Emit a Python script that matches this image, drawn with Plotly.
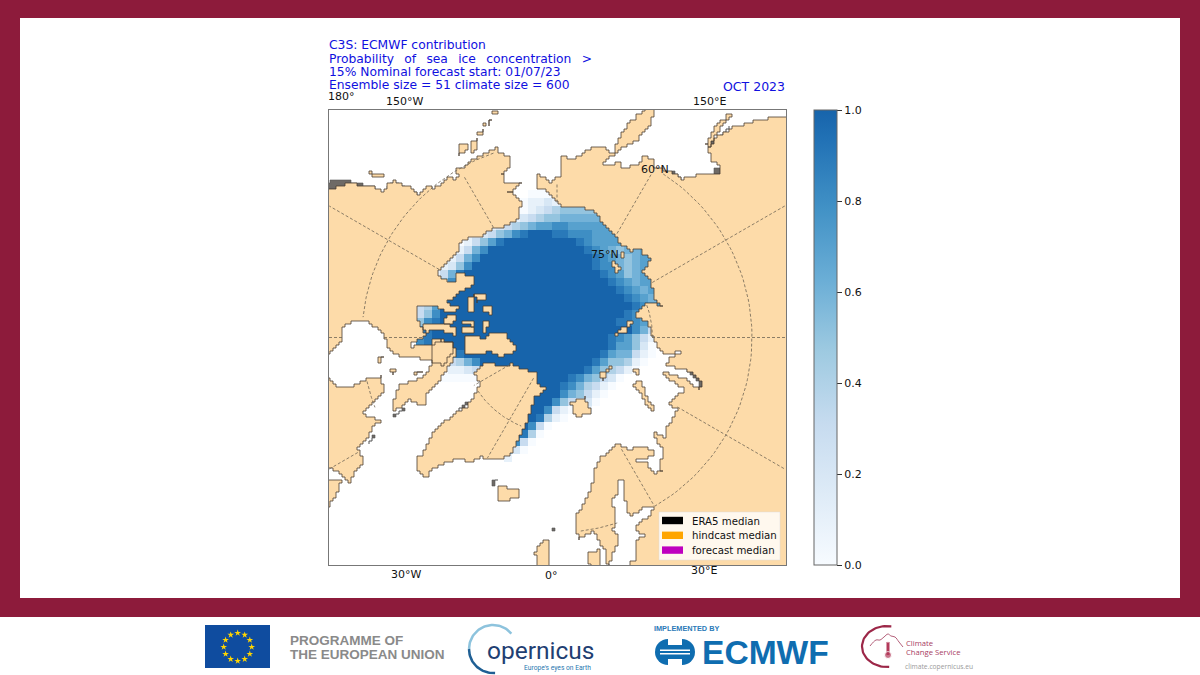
import numpy as np
import plotly.graph_objects as go

CROPS = {1: (325, 105), 2: (555, 105), 3: (325, 335), 4: (555, 335), 5: (410, 285)}

# ---- sea-ice probability, read from the map: '.'=no data, digit=tenths, X=1.0
ICE_X0, ICE_Y0, ICE_CELL = 400, 190, 8
ICE_ROWS = [
    "................000..............",
    "...............01121.............",
    "...............0123455555........",
    ".............0123455666666.......",
    "..........01234567788777777......",
    "........01235689XXX998887777.....",
    ".......013579XXXXXXXXX9877777....",
    "......01368XXXXXXXXXXXX9876566777",
    ".....01368XXXXXXXXXXXXXX987656777",
    "....01258XXXXXXXXXXXXXXX988656777",
    "...01369XXXXXXXXXXXXXXXXX98756777",
    "...0258XXXXXXXXXXXXXXXXXXX9876777",
    "....369XXXXXXXXXXXXXXXXXXXX987677",
    "...258XXXXXXXXXXXXXXXXXXXXXX98767",
    "..347XXXXXXXXXXXXXXXXXXXXXXXX9877",
    "..358XXXXXXXXXXXXXXXXXXXXXXX98877",
    ".3589XXXXXXXXXXXXXXXXXXXXXX99875.",
    ".789XXXXXXXXXXXXXXXXXXXXXXXXX863.",
    "..89XXXXXXXXXXXXXXXXXXXXXX987531.",
    "..89XXXXXXXXXXXXXXXXXXXXXX977520.",
    "......79XXXXXXXXXXXXXXXXX9766310.",
    "......3468XXXXXXXXXXXXXX9755410..",
    ".....011236XXXXXXXXXXXX9754310...",
    ".....00000XXXXXXXXXXX9865320.....",
    "...........XXXXXXXXX9864310......",
    "............XXXXXXXX865310.......",
    ".............XXXXXX853320........",
    ".............XXXXX831011.........",
    ".............XXXX9410............",
    ".............XXX830..............",
    ".............XX940...............",
    "..............830................",
    ".............520.................",
    ".............1...................",
]

# ---- coastlines, as (crop, [(x, y), ...]) pieces
NORTH_AMERICA = [(1, [(0, 250), (12, 250), (40, 245), (70, 235), (100, 240), (130, 240), (150, 250), (175, 262), (190, 235), (205, 225), (235, 245), (260, 250), (280, 268), (300, 240), (320, 252), (345, 232), (370, 218), (390, 225), (400, 205), (395, 190), (420, 180), (440, 165), (470, 150), (510, 128), (520, 145), (555, 155), (555, 190), (530, 210), (540, 235), (590, 232), (568, 258), (548, 265), (572, 275), (592, 300), (578, 345), (545, 362), (510, 372), (475, 392), (440, 400), (410, 405), (400, 440), (375, 470), (345, 495), (338, 515), (370, 528), (395, 528), (395, 500), (440, 515), (447, 535)]),
                 (5, [(190, 0), (150, 25), (110, 55), (145, 70), (130, 85), (85, 65), (50, 65), (25, 60), (25, 110), (30, 130), (45, 155), (10, 175), (5, 185), (60, 178), (70, 165), (130, 170), (130, 210), (100, 240), (60, 225), (0, 215)]),
                 (3, [(225, 60), (195, 45), (178, 5)]),
                 (1, [(180, 680), (160, 670), (130, 650), (90, 648), (50, 670), (50, 695)]),
                 (3, [(45, 30), (15, 55), (0, 55)])]
QUEBEC = [(3, [(0, 130), (12, 130), (40, 160), (75, 152), (120, 132), (165, 123), (178, 175), (150, 200), (130, 215), (115, 235), (135, 250), (168, 260), (145, 285), (130, 310), (100, 345), (115, 380), (75, 440), (40, 410), (12, 400), (0, 400)])]
NEWFOUNDLAND = [(3, [(0, 435), (35, 432), (50, 440), (30, 490), (12, 518), (0, 518)])]
BAFFIN = [(3, [(205, 190), (225, 148), (270, 135), (290, 130), (310, 100), (322, 70), (320, 30), (345, 12), (385, 30), (395, 60), (375, 90), (345, 140), (310, 170), (300, 210), (278, 205), (255, 195), (215, 230), (200, 222)])]
ELLESMERE = [(5, [(165, 150), (220, 160), (240, 140), (285, 145), (320, 200), (270, 215), (240, 195), (220, 210), (200, 205), (170, 205)])]
GREENLAND = [(3, [(450, 110), (480, 80), (525, 95), (560, 85), (590, 105), (630, 110), (640, 145), (660, 165), (630, 195), (615, 240), (600, 280), (580, 320), (560, 355), (530, 375), (490, 375), (470, 365), (440, 385), (410, 370), (375, 380), (340, 395), (300, 430), (280, 400), (275, 375), (295, 345), (310, 315), (340, 270), (380, 240), (420, 215), (465, 150)])]
SIBERIA = [(1, [(632, 225), (640, 208), (670, 232), (695, 213)]),
           (2, [(10, 215), (22, 205), (18, 155), (50, 162), (80, 145), (105, 125), (150, 130), (180, 150), (165, 165), (145, 180), (165, 182), (190, 170), (200, 190), (245, 180), (265, 155), (295, 170), (300, 190), (340, 200), (378, 222), (400, 215), (440, 205), (490, 207), (495, 180), (470, 165), (460, 125), (480, 100), (500, 85), (520, 70), (545, 62), (600, 45), (650, 38), (700, 35)]),
           (4, [(700, 700), (205, 700), (245, 668), (240, 620), (270, 600), (240, 570), (280, 545), (300, 512), (265, 520), (225, 545), (210, 490), (208, 435), (185, 435), (185, 480), (170, 510), (180, 540), (175, 590), (190, 620), (170, 670), (160, 700), (150, 645), (118, 590), (75, 612), (62, 575), (65, 530), (100, 480), (115, 430), (125, 380), (160, 345), (190, 325), (215, 345), (255, 335), (300, 345), (298, 365), (245, 378), (270, 385), (295, 415), (320, 405), (318, 375), (325, 345), (295, 295), (335, 310), (330, 280), (345, 260), (365, 215), (345, 200), (360, 180), (390, 160), (340, 130), (320, 110), (395, 135), (430, 165), (440, 140), (400, 100), (330, 95), (345, 70), (380, 50), (330, 60), (310, 30), (290, 0)]),
           (2, [(290, 695), (280, 650), (240, 630), (250, 610), (275, 590), (320, 605), (295, 570), (290, 530), (265, 495), (285, 460), (250, 430), (230, 440), (205, 420), (185, 395), (165, 370), (135, 345), (130, 320), (70, 305), (20, 310), (8, 290)]),
           (1, [(695, 285), (665, 255), (640, 245)])]
KAMCHATKA = [(2, [(305, 10), (280, 70), (250, 105), (185, 140), (180, 115), (205, 70), (240, 35), (270, 10)])]
SAKHALIN = [(2, [(450, 115), (480, 60), (525, 25), (535, 30), (505, 65), (480, 100), (465, 125)])]
ISLANDS = [
    (5, [(170, 35), (195, 30), (190, 60), (195, 80), (172, 80)]),
    (5, [(195, 25), (225, 25), (225, 45), (205, 50)]),
    (5, [(215, 62), (245, 70), (245, 88), (222, 82)]),
    (5, [(160, 105), (195, 112), (195, 122), (162, 120)]),
    (5, [(215, 105), (235, 105), (232, 140), (215, 135)]),
    (5, [(160, 127), (195, 130), (195, 145), (165, 142)]),
    (5, [(100, 95), (130, 90), (140, 110), (110, 118)]),
    (5, [(40, 120), (100, 117), (135, 125), (135, 150), (90, 135), (60, 140), (40, 135)]),
    (1, [(400, 120), (425, 115), (430, 135), (405, 155)]),
    (1, [(440, 110), (455, 100), (460, 130), (435, 145)]),
    (1, [(455, 85), (475, 75), (470, 92)]),
    (1, [(470, 50), (480, 50), (480, 60)]),
    (1, [(490, 45), (500, 45), (495, 60)]),
    (1, [(505, 18), (515, 18), (515, 30)]),
    (1, [(135, 200), (155, 205), (175, 215), (150, 215)]),
    (3, [(160, 65), (180, 70), (170, 80), (160, 78)]),
    (3, [(195, 100), (215, 110), (205, 122)]),
    (3, [(270, 110), (290, 115), (280, 120)]),
    (3, [(515, 455), (580, 462), (578, 490), (530, 500), (515, 480)]),
    (3, [(650, 615), (670, 620), (672, 700), (640, 700), (630, 650)]),
    (4, [(238, 100), (255, 100), (252, 120), (240, 118)]),
    (4, [(240, 135), (265, 155), (275, 190), (300, 215), (295, 228), (270, 200), (255, 165), (238, 150)]),
    (4, [(135, 115), (165, 95), (170, 105), (145, 135)]),
    (4, [(45, 200), (90, 185), (95, 210), (105, 235), (70, 245), (55, 225)]),
    (4, [(100, 650), (130, 645), (135, 700), (105, 700)]),
    (2, [(180, 680), (210, 665), (220, 645), (230, 655), (215, 680), (190, 690)]),
    (2, [(170, 470), (190, 485), (200, 495), (185, 500), (170, 480)]),
    (2, [(195, 445), (205, 440), (208, 455), (195, 455)]),
]
SHADOWS = [
    (1, [(0, 232), (45, 222), (75, 230), (100, 238), (140, 240), (150, 250), (100, 248), (60, 248), (0, 254)]),
    (1, [(185, 240), (205, 230), (235, 246), (280, 264), (280, 272), (240, 268), (190, 258)]),
    (2, [(470, 110), (525, 65), (525, 75), (480, 115)]),
    (2, [(350, 200), (378, 218), (375, 223), (345, 205)]),
    (2, [(480, 190), (497, 185), (495, 210), (480, 210)]),
    (4, [(395, 100), (432, 95), (445, 150), (430, 168), (430, 140), (405, 110)]),
    (4, [(680, 535), (700, 535), (700, 632), (680, 632)]),
    (3, [(130, 315), (150, 303), (135, 325)]),
    (3, [(500, 432), (515, 438), (510, 450), (498, 445)]),
    (3, [(680, 575), (688, 575), (688, 590), (680, 590)]),
    (3, [(400, 215), (425, 205), (420, 220), (405, 225)]),
    (3, [(205, 240), (240, 222), (235, 232), (212, 243)]),
    (5, [(165, 150), (190, 150), (190, 205), (165, 205)]),
]

# ---- graticule pieces visible on land: (lon, r from, r to) and (r, lon from, lon to)
POLE = (557.0, 337.5)
R60, R75 = 195.0, 95.5
MERIDIANS = [(-150, 127, 185), (-120, 136, 263), (-90, 215, 228), (-90, 135, 174), (-60, 230, 263), (-60, 55, 96), (-30, 47, 139),
             (30, 129, 195), (60, 139, 263), (90, 95, 228), (120, 110, 263), (150, 120, 190), (180, 135, 155)]
PARALLELS = [(R60, 30, 147), (R60, 7, 18), (R60, -161, -96), (R60, -77, -69), (R75, -56, -22), (R75, 90, 111)]

# ---- texts
GAP = "\u00a0\u2009\u00a0"
TITLE_LINES = ["C3S: ECMWF contribution",
               GAP.join(["Probability", "of", "sea", "ice", "concentration", ">"]),
               "15% Nominal forecast start: 01/07/23",
               "Ensemble size = 51 climate size = 600"]
LON_LABELS = [("180°", 341.5, 97), ("150°W", 404, 102), ("150°E", 709, 102), ("30°W", 406, 574), ("0°", 551, 575), ("30°E", 704, 570)]
LAT_LABELS = [("60°N", 655, 169), ("75°N", 605, 254)]
LEGEND_ITEMS = [("ERA5 median", "#000000"), ("hindcast median", "#ffa500"), ("forecast median", "#bf00bf")]

BURGUNDY, LAND = "#8d1b3b", "#fddba9"
BLUES = [[0, "#f7fbff"], [.156, "#deebf7"], [.3125, "#c6dbef"], [.469, "#9ecae1"], [.625, "#6baed6"],
         [.781, "#4292c6"], [.9375, "#2171b5"], [1, "#1764ab"]]
FONT = "DejaVu Sans"
STAIR = 3.0  # the source coast is a blocky mask; draw it as small steps


def polys(groups, stair=False):
    xs, ys = [], []
    for g in groups:
        pieces = g if isinstance(g, list) else [g]
        px, py = [], []
        for crop, pts in pieces:
            ox, oy = CROPS[crop]
            px += [ox + p[0] / 3 for p in pts]
            py += [oy + p[1] / 3 for p in pts]
        if stair:
            qx, qy = [], []
            for i in range(len(px)):
                x0, y0, x1, y1 = px[i], py[i], px[(i + 1) % len(px)], py[(i + 1) % len(px)]
                n = max(1, int(np.hypot(x1 - x0, y1 - y0) / STAIR))
                qx += [round((x0 + (x1 - x0) * k / n) / STAIR) * STAIR for k in range(n)]
                qy += [round((y0 + (y1 - y0) * k / n) / STAIR) * STAIR for k in range(n)]
            px, py = qx + qx[:1], qy + qy[:1]
        xs += px + [None]
        ys += py + [None]
    return xs, ys


def lonlat(lon, r):
    a = np.radians(lon)
    return POLE[0] + r * np.sin(a), POLE[1] + r * np.cos(a)


z = [[np.nan if c == "." else (1.0 if c == "X" else int(c) / 10) for c in row] for row in ICE_ROWS]
hx = [ICE_X0 + ICE_CELL * (i + .5) for i in range(len(ICE_ROWS[0]))]
hy = [ICE_Y0 + ICE_CELL * (j + .5) for j in range(len(ICE_ROWS))]

fig = go.Figure()
MAP = dict(xaxis="x2", yaxis="y2")
fig.add_trace(go.Heatmap(z=z, x=hx, y=hy, zmin=0, zmax=1, colorscale=BLUES, hoverinfo="skip", showscale=True, **MAP,
                         colorbar=dict(x=814 / 1200, xanchor="left", xpad=0, y=1 - 110 / 675, yanchor="top", ypad=0,
                                       len=455, lenmode="pixels", thickness=23, thicknessmode="pixels",
                                       tickvals=[0, .2, .4, .6, .8, 1], ticktext=["0.0", "0.2", "0.4", "0.6", "0.8", "1.0"],
                                       ticks="outside", ticklen=5, tickcolor="#333", outlinecolor="#666", outlinewidth=1,
                                       tickfont=dict(family=FONT, size=11, color="#111"))))
sx, sy = polys(SHADOWS, stair=True)
fig.add_trace(go.Scatter(x=sx, y=sy, mode="lines", fill="toself", fillcolor="#6e6a66", line=dict(color="#555", width=.6, shape="hv"), hoverinfo="skip", showlegend=False, **MAP))
lx, ly = polys([NORTH_AMERICA, QUEBEC, NEWFOUNDLAND, BAFFIN, ELLESMERE, GREENLAND, SIBERIA, KAMCHATKA, SAKHALIN] + ISLANDS, stair=True)
fig.add_trace(go.Scatter(x=lx, y=ly, mode="lines", fill="toself", fillcolor=LAND, line=dict(color="#4a3d30", width=.8, shape="hv"), hoverinfo="skip", showlegend=False, **MAP))
gx, gy = [], []
for lon, r0, r1 in MERIDIANS:
    a, b = lonlat(lon, r0), lonlat(lon, r1)
    gx += [a[0], b[0], None]
    gy += [a[1], b[1], None]
for r, l0, l1 in PARALLELS:
    th = np.linspace(l0, l1, 60)
    px, py = lonlat(th, r)
    gx += list(px) + [None]
    gy += list(py) + [None]
fig.add_trace(go.Scatter(x=gx, y=gy, mode="lines", line=dict(color="#6f6454", width=.8, dash="3px,2px"), hoverinfo="skip", showlegend=False, **MAP))

# ---- footer marks on a full-page axis
PAGE = dict(xaxis="x", yaxis="y", hoverinfo="skip", showlegend=False)
star_th = np.arange(0, 360, 30)
sxs, sys_ = 237.7 + 14 * np.sin(np.radians(star_th)), 647 + 14 * np.cos(np.radians(star_th))
fig.add_trace(go.Scatter(x=sxs, y=sys_, mode="markers", marker=dict(symbol="star", size=5, color="#ffd500", line=dict(width=0)), **PAGE))
t1 = np.radians(np.linspace(-40, -180, 40))
t2 = np.radians(np.linspace(180, 85, 30))
fig.add_trace(go.Scatter(x=493 + 24 * np.cos(t1), y=649 + 24 * np.sin(t1), mode="lines", line=dict(color="#8dc3dd", width=2.5), **PAGE))
fig.add_trace(go.Scatter(x=493 + 24 * np.cos(t2), y=649 + 24 * np.sin(t2), mode="lines", line=dict(color="#1f5f94", width=2.5), **PAGE))
t3 = np.radians(np.linspace(-80, -275, 50))
fig.add_trace(go.Scatter(x=887 + 25 * np.cos(t3), y=646.5 + 20.5 * np.sin(t3), mode="lines", line=dict(color="#9c2748", width=2.2), **PAGE))
CLOUD_X = [870, 876, 880, 884, 888, 891, 895, 899, 903]
CLOUD_Y = [646, 640, 640, 637, 634, 636, 637, 642, 647]
fig.add_trace(go.Scatter(x=CLOUD_X, y=CLOUD_Y, mode="lines", line=dict(color="#b4607a", width=1, shape="spline"), **PAGE))
fig.add_trace(go.Scatter(x=[888, 888], y=[642, 655], mode="lines+markers", line=dict(color="#b23a5a", width=3), marker=dict(size=[1, 7], color="#b23a5a"), **PAGE))

shapes = [
    dict(type="rect", xref="paper", yref="paper", x0=0, x1=1, y0=0, y1=1, fillcolor=BURGUNDY, line_width=0, layer="below"),
    dict(type="rect", xref="paper", yref="paper", x0=20 / 1200, x1=1180 / 1200, y0=1 - 598 / 675, y1=1 - 18 / 675, fillcolor="white", line_width=0, layer="below"),
    dict(type="rect", xref="paper", yref="paper", x0=0, x1=1, y0=0, y1=1 - 617 / 675, fillcolor="white", line_width=0, layer="below"),
    dict(type="rect", xref="x", yref="y", x0=205, x1=270, y0=625, y1=668, fillcolor="#0f4c9f", line_width=0, layer="below"),
]
ECMWF_BLUE = "#0f6db0"
for x0, x1 in [(655, 681), (669, 695)]:
    shapes.append(dict(type="circle", xref="x", yref="y", x0=x0, x1=x1, y0=639, y1=665, fillcolor=ECMWF_BLUE, line_width=0, layer="below"))
for x0, x1, y0, y1 in [(668, 682, 638, 645), (668, 682, 659, 666), (660, 690, 649.5, 651), (660, 690, 653, 654.5)]:
    shapes.append(dict(type="rect", xref="x", yref="y", x0=x0, x1=x1, y0=y0, y1=y1, fillcolor="white", line_width=0, layer="below"))
# legend box and swatches
shapes.append(dict(type="rect", xref="paper", yref="paper", x0=659 / 1200, x1=780 / 1200, y0=1 - 560 / 675, y1=1 - 512 / 675,
                   fillcolor="rgba(255,255,255,0.8)", line=dict(color="rgba(220,220,220,0.6)", width=.8), layer="above"))
ann = []


def txt(x, y, s, size, color="#111111", anchor="left", family=FONT, bold=False):
    ann.append(dict(xref="paper", yref="paper", x=x / 1200, y=1 - y / 675, text=f"<b>{s}</b>" if bold else s, showarrow=False,
                    xanchor=anchor, yanchor="middle", font=dict(family=family, size=size, color=color), borderpad=0))


for i, (lab, col) in enumerate(LEGEND_ITEMS):
    yc = 520.5 + 14.8 * i
    shapes.append(dict(type="rect", xref="paper", yref="paper", x0=662 / 1200, x1=683 / 1200, y0=1 - (yc + 3.7) / 675, y1=1 - (yc - 3.7) / 675,
                       fillcolor=col, line_width=0, layer="above"))
    txt(691, yc + .5, lab, 10.2)
for i, line in enumerate(TITLE_LINES):
    txt(328, 45.5 + 13.3 * i, line, 12.3, "#1010e0")
txt(786, 86.5, "OCT 2023", 12.5, "#1010e0", anchor="right")
for s, x, y in LON_LABELS + LAT_LABELS:
    txt(x, y, s, 11, anchor="center")
txt(289, 640, "PROGRAMME OF", 13.5, "#8a8a8a", family="Liberation Sans", bold=True)
txt(289, 654, "THE EUROPEAN UNION", 13.5, "#8a8a8a", family="Liberation Sans", bold=True)
txt(486, 650, "opernicus", 24.5, "#1f3f73", family="Roboto")
txt(592, 668, "Europe's eyes on Earth", 6.7, "#2a78b0", anchor="right", family="Roboto")
txt(653, 628, "IMPLEMENTED BY", 7.3, "#2b7ab8", family="Liberation Sans", bold=True)
txt(701, 652.5, "ECMWF", 33.6, ECMWF_BLUE, family="Liberation Sans", bold=True)
txt(905, 643, "Climate", 7.7, "#a8405f", family="Open Sans")
txt(905, 652, "Change Service", 7.7, "#a8405f", family="Open Sans")
txt(904, 666, "climate.copernicus.eu", 6.7, "#9a9a9a", family="Open Sans")

fig.update_layout(
    width=1200, height=675, margin=dict(l=0, r=0, t=0, b=0), autosize=False, paper_bgcolor="white", plot_bgcolor="rgba(0,0,0,0)",
    showlegend=False, shapes=shapes, annotations=ann,
    xaxis=dict(domain=[0, 1], range=[0, 1200], visible=False, fixedrange=True),
    yaxis=dict(domain=[0, 1], range=[675, 0], visible=False, fixedrange=True),
    xaxis2=dict(domain=[329 / 1200, 786 / 1200], range=[329, 786], anchor="y2", showticklabels=False, ticks="", showgrid=False, zeroline=False,
                showline=True, mirror=True, linecolor="#777", linewidth=1, fixedrange=True),
    yaxis2=dict(domain=[1 - 565 / 675, 1 - 110 / 675], range=[565, 110], anchor="x2", showticklabels=False, ticks="", showgrid=False, zeroline=False,
                showline=True, mirror=True, linecolor="#777", linewidth=1, fixedrange=True),
)
fig.write_html("out.html", config=dict(displayModeBar=False),
               post_script="document.body.style.margin='0';document.body.style.overflow='hidden';")
